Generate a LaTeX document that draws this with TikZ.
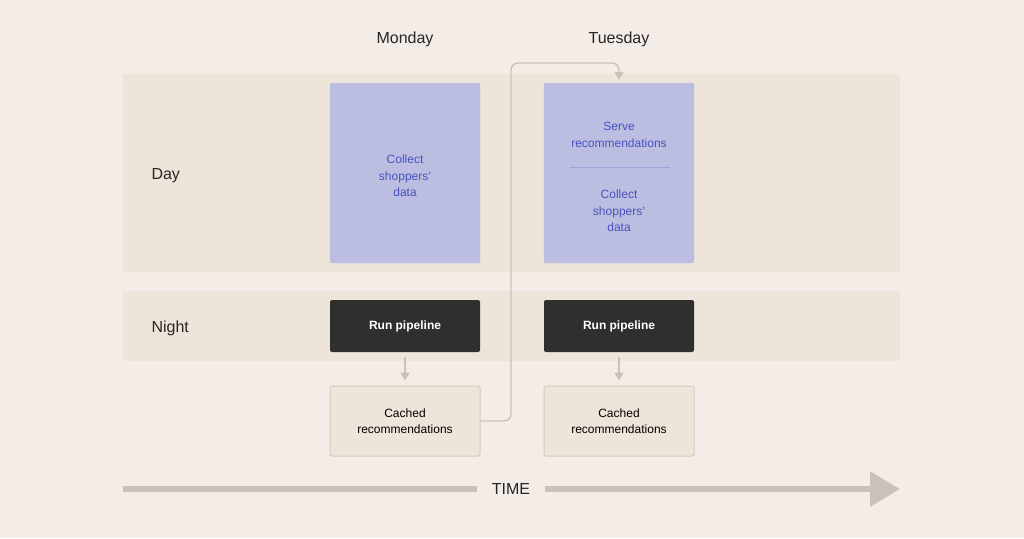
\documentclass[tikz,border=0pt]{standalone}
\usepackage{fontspec}
\setmainfont{Liberation Sans}
\usetikzlibrary{arrows.meta}
\definecolor{paper}{HTML}{F4ECE6}
\definecolor{band}{HTML}{EEE5DA}
\definecolor{lavender}{HTML}{BBBEE0}
\definecolor{inkblue}{HTML}{4A52BD}
\definecolor{coal}{HTML}{302F2D}
\definecolor{flow}{HTML}{C9C1BA}
\definecolor{edge}{HTML}{D3CBC1}
\begin{document}
\begin{tikzpicture}[x=1pt,y=-1pt,
	daylabel/.style={font=\fontsize{16}{19}\selectfont,text=black!85},
	rowlabel/.style={anchor=west,font=\fontsize{16}{19}\selectfont,text=black!85},
	task/.style={draw=lavender,fill=lavender,rounded corners=2pt,minimum width=150pt,minimum height=180pt,inner sep=0pt},
	tasktext/.style={align=center,text=inkblue,font=\fontsize{12}{16.5}\selectfont},
	pipe/.style={fill=coal,rounded corners=2pt,minimum width=150pt,minimum height=52pt,text=white,font=\bfseries\fontsize{12}{15}\selectfont},
	cache/.style={draw=edge,line width=1pt,fill=band,rounded corners=2pt,minimum width=150pt,minimum height=70pt,align=center,font=\fontsize{12}{16.5}\selectfont},
	flowarrow/.style={draw=flow,line width=1.4pt,-{Triangle[width=9pt,length=8pt]}}]
	% background and bands
	\useasboundingbox[fill=paper] (0,0) rectangle (1024,538);
	\fill[band] (123,74) rectangle (900,272);
	\fill[band] (123,291) rectangle (900,361);
	
	\node[daylabel] (mon) at (405,39) {Monday};
	\node[daylabel] (tue) at (619,39) {Tuesday};
	\node[rowlabel] (day) at (148,176) {Day};
	\node[rowlabel] (night) at (148,328) {Night};
	
	% Monday
	\node[task] (dayA) at (405,173) {};
	\node[tasktext] (collectA) at (405,176) {Collect\\shoppers’\\data};
	\node[pipe] (runA) at (405,326) {Run pipeline};
	\node[cache] (cachedA) at (405,421) {Cached\\recommendations};
	
	% Tuesday
	\node[task] (dayB) at (619,173) {};
	\node[tasktext] (serveB) at (619,135) {Serve\\recommendations};
	\node[tasktext] (collectB) at (619,211) {Collect\\shoppers’\\data};
	\draw[draw=inkblue!25!lavender,line width=0.8pt] (570,167) -- (670,167);
	\node[pipe] (runB) at (619,326) {Run pipeline};
	\node[cache] (cachedB) at (619,421) {Cached\\recommendations};
	
	\draw[flowarrow,shorten <=5pt,shorten >=5pt] (runA) -- (cachedA);
	\draw[flowarrow,shorten <=5pt,shorten >=5pt] (runB) -- (cachedB);
	
	\coordinate (bend) at (511,63);
	\draw[flowarrow,rounded corners=7pt,shorten >=3pt] (cachedA.east) -| (bend) -| (dayB.north);
	
	% time axis
	\coordinate (tstart) at (123,489);
	\coordinate (tend) at (900,489);
	\node[font=\fontsize{16}{19}\selectfont,text=black!85] (time) at (511,489) {TIME};
	\draw[flow,line width=6pt] (tstart) -- ([xshift=-34pt]time.center);
	\draw[flow,line width=6pt,-{Triangle[width=34pt,length=30pt]}] ([xshift=34pt]time.center) -- (tend);
\end{tikzpicture}
\end{document}
